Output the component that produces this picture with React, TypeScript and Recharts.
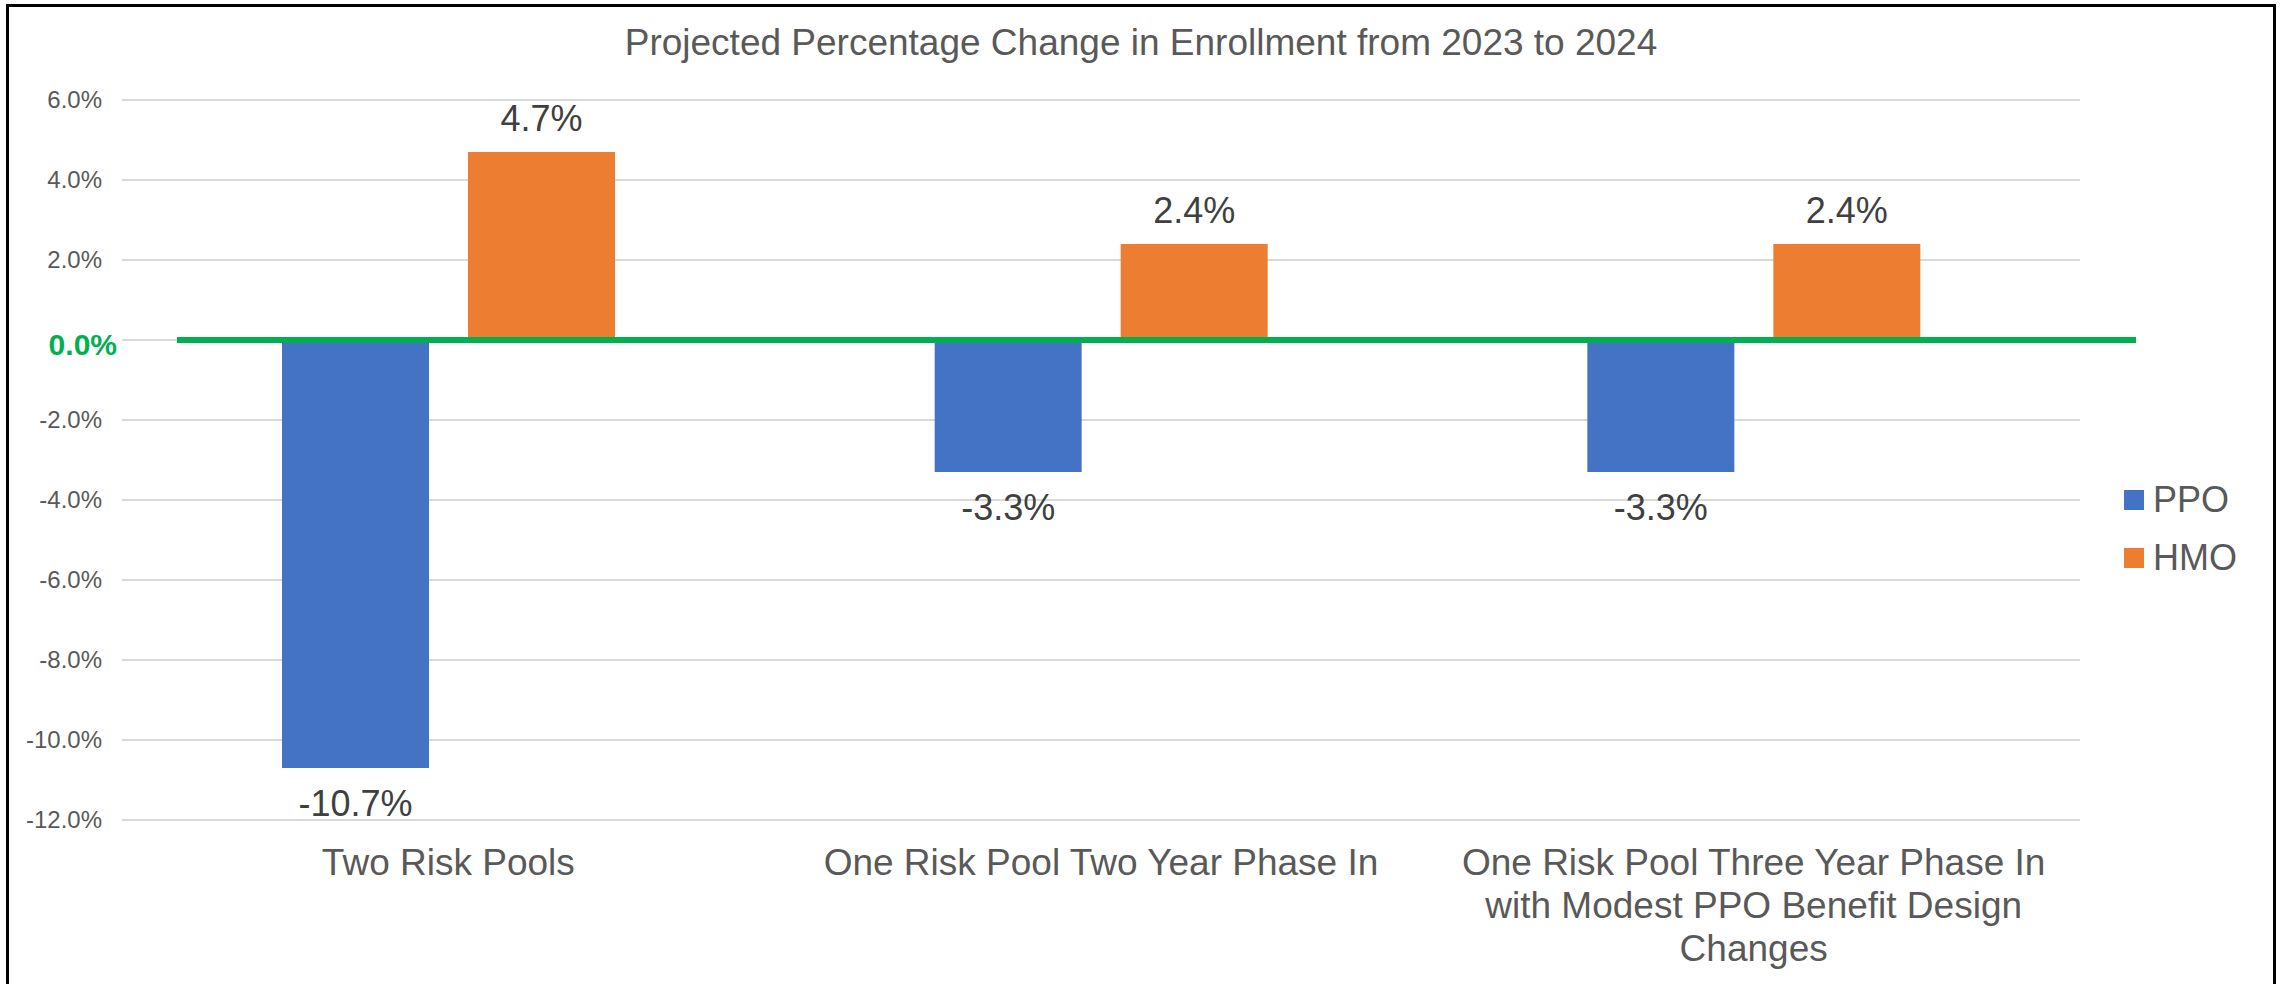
import React from "react";
import { BarChart, Bar, XAxis, YAxis, CartesianGrid, ReferenceLine, LabelList } from "recharts";

const CATEGORIES = [
  "Two Risk Pools",
  "One Risk Pool Two Year Phase In",
  "One Risk Pool Three Year Phase In\nwith Modest PPO Benefit Design\nChanges",
];
const PPO_VALUES = [-10.7, -3.3, -3.3];
const HMO_VALUES = [4.7, 2.4, 2.4];
const Y_TICKS = [-12, -10, -8, -6, -4, -2, 0, 2, 4, 6];

const SERIES = [
  { key: "PPO", color: "#4472C4" },
  { key: "HMO", color: "#ED7D31" },
];

const GREEN = "#00B050";
const TEXT = "#595959";
const LABEL_TEXT = "#404040";
const FONT = "'Liberation Sans', Arial, sans-serif";

const data = CATEGORIES.map((name, i) => ({ name, PPO: PPO_VALUES[i], HMO: HMO_VALUES[i] }));

const fmt = (v: number) => `${v.toFixed(1)}%`;

const YTick = (props: any) => {
  const { x, y, payload } = props;
  const zero = payload.value === 0;
  return (
    <text
      x={zero ? x + 15 : x}
      y={y}
      dy={zero ? 15 : 8}
      textAnchor="end"
      fill={zero ? GREEN : TEXT}
      fontSize={zero ? 30 : 24}
      fontWeight={zero ? 700 : 400}
      fontFamily={FONT}
    >
      {fmt(payload.value)}
    </text>
  );
};

const XTick = (props: any) => {
  const { x, y, payload } = props;
  const lines = String(payload.value).split("\n");
  return (
    <text x={x} y={y} textAnchor="middle" fill={TEXT} fontSize={37} fontFamily={FONT}>
      {lines.map((l, i) => (
        <tspan key={i} x={x} y={y + 55 + i * 43}>
          {l}
        </tspan>
      ))}
    </text>
  );
};

const BarLabel = (props: any) => {
  const { x, y, width, height, value } = props;
  const top = Math.min(y, y + height);
  const bottom = Math.max(y, y + height);
  const ty = value >= 0 ? top - 21 : bottom + 48;
  return (
    <text x={x + width / 2} y={ty} textAnchor="middle" fill={LABEL_TEXT} fontSize={36} fontFamily={FONT}>
      {fmt(value)}
    </text>
  );
};

// zero line is wider than the plot area in the original
const ZeroLine = (props: any) => {
  const { x1, y1, x2, y2 } = props;
  return <line x1={x1 + 55} y1={y1} x2={x2 + 56} y2={y2} stroke={GREEN} strokeWidth={6} />;
};

export default function App() {
  return (
    <div style={{ position: "relative", width: 2285, height: 984, overflow: "hidden", background: "#fff" }}>
      <style>{"body{margin:0}"}</style>
      <div
        style={{
          position: "absolute",
          left: 6,
          top: 4,
          width: 2270,
          height: 1000,
          border: "3px solid #000",
          boxSizing: "border-box",
          pointerEvents: "none",
        }}
      />
      <div
        style={{
          position: "absolute",
          left: 0,
          top: 22,
          width: 2285,
          fontFamily: FONT,
          fontSize: 37,
          color: TEXT,
        }}
      >
        <span style={{ position: "absolute", left: 1141, transform: "translateX(-50%)", whiteSpace: "nowrap" }}>
          Projected Percentage Change in Enrollment from 2023 to 2024
        </span>
      </div>
      <BarChart
        width={2285}
        height={984}
        data={data}
        margin={{ top: 100, right: 205, bottom: 14, left: 0 }}
        barGap={39}
        barSize={147}
      >
        <CartesianGrid vertical={false} stroke="#D9D9D9" strokeWidth={2} />
        <XAxis dataKey="name" axisLine={false} tickLine={false} tickSize={0} tickMargin={0} height={150} tick={<XTick />} interval={0} />
        <YAxis
          type="number"
          domain={[-12, 6]}
          ticks={Y_TICKS}
          width={122}
          axisLine={false}
          tickLine={false}
          tickSize={0}
          tickMargin={20}
          tick={<YTick />}
          interval={0}
        />
        {SERIES.map((s) => (
          <Bar key={s.key} dataKey={s.key} fill={s.color} isAnimationActive={false}>
            <LabelList dataKey={s.key} content={<BarLabel />} />
          </Bar>
        ))}
        <ReferenceLine y={0} shape={<ZeroLine />} ifOverflow="visible" />
      </BarChart>
      <div style={{ position: "absolute", left: 2124, top: 471, fontFamily: FONT, fontSize: 36, color: TEXT }}>
        {SERIES.map((s) => (
          <div key={s.key} style={{ display: "flex", alignItems: "center", height: 58 }}>
            <span style={{ display: "inline-block", width: 20, height: 20, background: s.color, marginRight: 9 }} />
            <span>{s.key}</span>
          </div>
        ))}
      </div>
    </div>
  );
}
